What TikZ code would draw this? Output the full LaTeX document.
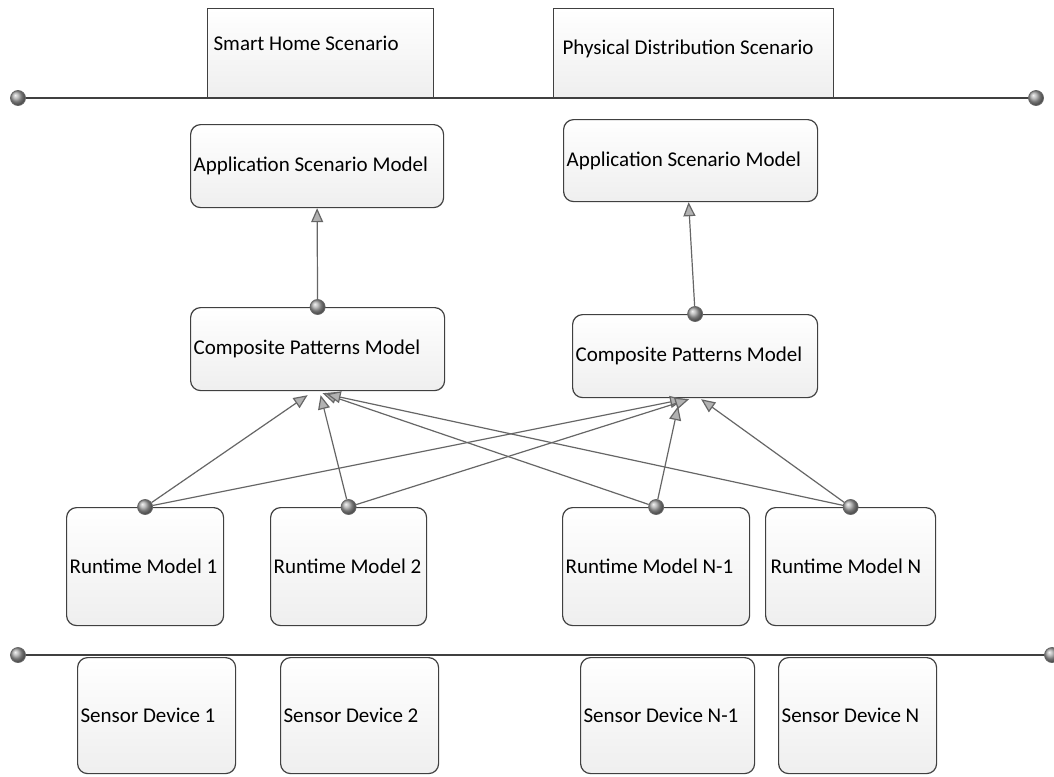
\documentclass[tikz,border=0pt]{standalone}
\usepackage{fontspec}
\setmainfont{Carlito}
\usetikzlibrary{positioning}
\usetikzlibrary{arrows.meta}
\usetikzlibrary{shadings}
\tikzset{x=0.5pt, y=-0.5pt,
	model/.style={
		draw=black!75,
		line width=0.6pt,
		rounded corners=5pt,
		top color=white,
		bottom color=gray!13,
		align=flush left,
		inner xsep=1.5pt,
		font=\fontsize{10.5}{12}\selectfont},
	scen/.style={
		model,
		rounded corners=0pt},
	port/.style={
		circle,
		draw=black!60,
		line width=0.4pt,
		shading=ball,
		ball color=gray!70,
		minimum size=7.5pt,
		inner sep=0pt},
	bus/.style={
		draw=black!75,
		line width=0.6pt},
	link/.style={
		draw=black!60,
		line width=0.6pt,
		-{Triangle[length=7pt,width=6pt,fill=gray!60]}}
}
\begin{document}
\begin{tikzpicture}
	\useasboundingbox (0,0) rectangle (1054,776);
	\clip (0,0) rectangle (1054,776);
	\fill[white] (0,0) rectangle (1054,776);
	% scenario bus
	\node[port] (tl) at (18,98) {};
	\node[port] (tr) at (1036,98) {};
	\draw[bus] (tl) -- (tr);
	\node[scen, anchor=north west, text width=110pt, minimum height=44.5pt] (sh) at (207,8) {\hspace*{1.5pt}Smart Home Scenario\\[-2pt]\mbox{}};
	\node[scen, anchor=north west, text width=137pt, minimum height=44.5pt] (pd) at (553,8) {\hspace*{3pt}Physical Distribution Scenario\\[-6pt]\mbox{}};
	% models
	\node[model, anchor=north west, text width=123.5pt, minimum height=41.5pt] (asmL) at (190,124) {Application Scenario Model};
	\node[model, anchor=north west, text width=124pt, minimum height=41pt] (asmR) at (563,119) {Application Scenario Model};
	\node[model, anchor=north west, text width=124pt, minimum height=41.5pt] (cpmL) at (190,307) {Composite Patterns Model};
	\node[model, anchor=north west, text width=119.5pt, minimum height=41.5pt] (cpmR) at (572,314) {Composite Patterns Model};
	\node[model, anchor=north west, text width=75.5pt, minimum height=59pt] (rm1) at (66,507) {Runtime Model 1};
	\node[model, anchor=north west, text width=75pt, minimum height=59pt] (rm2) at (270,507) {Runtime Model 2};
	\node[model, anchor=north west, text width=90.5pt, minimum height=59pt] (rmN1) at (562,507) {Runtime Model N-1};
	\node[model, anchor=north west, text width=82pt, minimum height=59pt] (rmN) at (765,507) {\hspace*{1pt}Runtime Model N};
	% device bus
	\node[port] (bl) at (18,655) {};
	\node[port] (br) at (1052,655) {};
	\draw[bus] (bl) -- (br);
	\node[model, anchor=north west, text width=76pt, minimum height=58pt] (sd1) at (77,657) {Sensor Device 1};
	\node[model, anchor=north west, text width=76pt, minimum height=58pt] (sd2) at (280,657) {Sensor Device 2};
	\node[model, anchor=north west, text width=84pt, minimum height=58pt] (sdN1) at (580,657) {Sensor Device N-1};
	\node[model, anchor=north west, text width=76pt, minimum height=58pt] (sdN) at (778,657) {Sensor Device N};
	% ports
	\node[port] (pcL) at (cpmL.north) {};
	\node[port] (pcR) at (cpmR.north) {};
	\node[port] (p1) at (rm1.north) {};
	\node[port] (p2) at (rm2.north) {};
	\node[port] (pN1) at (rmN1.north) {};
	\node[port] (pN) at (rmN.north) {};
	% links
	\draw[link] (pcL) -- (asmL.south);
	\draw[link] (pcR) -- ([xshift=-1pt]asmR.south);
	\draw[link] (p1) -- ([xshift=-5pt,yshift=-2pt]cpmL.south);
	\draw[link] (p2) -- ([xshift=1.5pt,yshift=-2pt]cpmL.south);
	\draw[link] (pN1) -- ([xshift=2.5pt,yshift=-1pt]cpmL.south);
	\draw[link] (pN) -- ([xshift=4.5pt,yshift=-1.5pt]cpmL.south);
	\draw[link] (p1) -- ([xshift=-5.5pt,yshift=-0.5pt]cpmR.south);
	\draw[link] (p2) -- ([xshift=-3pt,yshift=-0.5pt]cpmR.south);
	\draw[link] (pN1) -- ([xshift=-8.5pt,yshift=-4pt]cpmR.south);
	\draw[link] (pN) -- ([xshift=3pt,yshift=-0.5pt]cpmR.south);
\end{tikzpicture}
\end{document}
